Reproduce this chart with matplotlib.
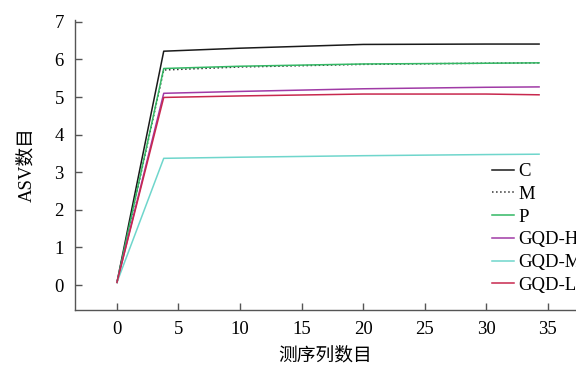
import matplotlib
matplotlib.use("Agg")
import matplotlib.pyplot as plt

plt.rcParams['font.family'] = ['Liberation Serif', 'Noto Sans CJK SC']

x = [0, 3.8, 10, 20, 30, 34.3]
C = [0.07, 6.22, 6.30, 6.40, 6.41, 6.41]
M = [0.07, 5.72, 5.80, 5.87, 5.90, 5.91]
P = [0.07, 5.76, 5.82, 5.88, 5.90, 5.91]
GQD_H = [0.07, 5.10, 5.15, 5.22, 5.26, 5.27]
GQD_M = [0.07, 3.37, 3.40, 3.44, 3.47, 3.48]
GQD_L = [0.07, 4.99, 5.03, 5.08, 5.08, 5.06]

labels = ['C', 'M', 'P', 'GQD-H', 'GQD-M', 'GQD-L']
series = [C, M, P, GQD_H, GQD_M, GQD_L]
colors = ['#1a1a1a', '#333333', '#33b864', '#a03aa6', '#6fd6cc', '#c8284e']
styles = ['-', ':', '-', '-', '-', '-']

fig = plt.figure(figsize=(5.76, 3.65), dpi=100)
ax = fig.add_axes([75/576, 55/365, 1 - 75/576, 290/365])

for y, lab, c, ls in zip(series, labels, colors, styles):
    ax.plot(x, y, color=c, linestyle=ls, linewidth=1.1, label=lab)

ax.set_xlim(-3.41, 37.3)
ax.set_ylim(-0.665, 7.05)
ax.set_xticks([0, 5, 10, 15, 20, 25, 30, 35])
ax.set_yticks(range(0, 8))
ax.spines['top'].set_visible(False)
ax.spines['right'].set_visible(False)
for s in ['left', 'bottom']:
    ax.spines[s].set_color('#555555')
    ax.spines[s].set_linewidth(1.0)
ax.tick_params(direction='in', length=5, width=1.0, color='#555555', labelsize=13.5, pad=8)

ax.set_xlabel('测序列数目', fontsize=13.5, labelpad=6)
ax.set_ylabel('ASV数目', fontsize=13.5, labelpad=14)

leg = ax.legend(loc='upper left', bbox_to_anchor=(492/576, 1 - 163/365),
                bbox_transform=fig.transFigure, frameon=False, fontsize=13.5,
                handlelength=1.15, handletextpad=0.25, labelspacing=0.3,
                borderpad=0, borderaxespad=0)

fig.savefig('out.png', dpi=100)
